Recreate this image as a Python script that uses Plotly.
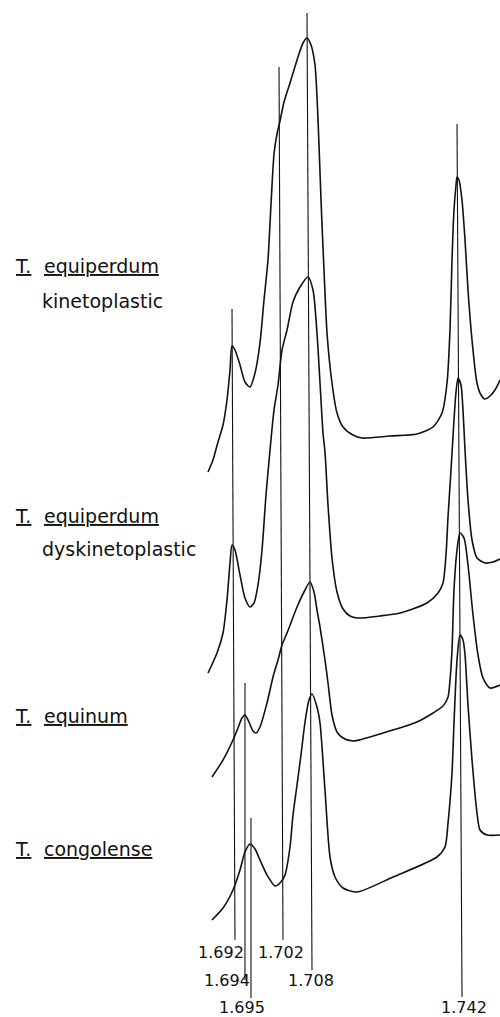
import plotly.graph_objects as go

# ---------------- data (buoyant density in g/cm3, relative absorbance) ----------------
species = ["T. equiperdum kinetoplastic", "T. equiperdum dyskinetoplastic",
           "T. equinum", "T. congolense"]

# vertical stacking offset of each trace (absorbance units)
offsets = [5.45, 3.44, 2.40, 0.97]

kin_density = [1.68636, 1.68746, 1.68857, 1.68968, 1.69056, 1.69123, 1.69167, 1.69233, 1.69344, 1.69454,
               1.69565, 1.69676, 1.69786, 1.69875, 1.69963, 1.70030, 1.70096, 1.70162, 1.70229, 1.70317,
               1.70450, 1.70627, 1.70738, 1.70826, 1.70915, 1.71003, 1.71070, 1.71136, 1.71202, 1.71269,
               1.71379, 1.71490, 1.71623, 1.71844, 1.72043, 1.72662, 1.73260, 1.73614, 1.73813, 1.73924,
               1.73990, 1.74034, 1.74078, 1.74123, 1.74145, 1.74189, 1.74255, 1.74322, 1.74388, 1.74477,
               1.74587, 1.74676, 1.74764, 1.74875, 1.74985, 1.75096]
kin_abs = [0, 0.12, 0.30, 0.47, 0.72, 1.02, 1.26, 1.22, 1.07, 0.90,
           0.85, 0.99, 1.29, 1.72, 2.12, 2.68, 3.18, 3.38, 3.51, 3.70,
           3.89, 4.15, 4.29, 4.34, 4.27, 4.07, 3.52, 2.72, 2.02, 1.39,
           0.89, 0.59, 0.45, 0.37, 0.34, 0.36, 0.38, 0.45, 0.59, 0.89,
           1.42, 2.12, 2.62, 2.87, 2.95, 2.92, 2.72, 2.32, 1.82, 1.32,
           0.89, 0.77, 0.73, 0.76, 0.82, 0.92]

dys_density = [1.68636, 1.68835, 1.68968, 1.69056, 1.69123, 1.69167, 1.69233, 1.69344, 1.69454, 1.69565,
               1.69654, 1.69742, 1.69831, 1.69919, 1.70008, 1.70096, 1.70185, 1.70273, 1.70384, 1.70516,
               1.70671, 1.70848, 1.70959, 1.71047, 1.71114, 1.71180, 1.71224, 1.71291, 1.71379, 1.71490,
               1.71623, 1.71777, 1.71932, 1.72441, 1.72884, 1.73481, 1.73724, 1.73835, 1.73901, 1.73946,
               1.74012, 1.74078, 1.74123, 1.74167, 1.74233, 1.74277, 1.74322, 1.74388, 1.74477, 1.74587,
               1.74764, 1.74941, 1.75096]
dys_abs = [0, 0.20, 0.40, 0.73, 1.10, 1.28, 1.23, 0.98, 0.75, 0.66,
           0.70, 0.88, 1.23, 1.78, 2.23, 2.63, 2.88, 3.23, 3.43, 3.71,
           3.86, 3.96, 3.83, 3.40, 2.90, 2.40, 2.21, 1.68, 1.15, 0.81,
           0.64, 0.57, 0.55, 0.57, 0.60, 0.70, 0.80, 0.90, 1.18, 1.56,
           2.03, 2.53, 2.81, 2.95, 2.88, 2.63, 2.23, 1.73, 1.33, 1.15,
           1.10, 1.11, 1.14]

equ_density = [1.68724, 1.68968, 1.69189, 1.69300, 1.69388, 1.69454, 1.69543, 1.69631, 1.69698, 1.69786,
               1.69941, 1.70074, 1.70185, 1.70273, 1.70384, 1.70605, 1.70782, 1.70893, 1.70981, 1.71047,
               1.71114, 1.71224, 1.71291, 1.71379, 1.71490, 1.71623, 1.71844, 1.72508, 1.73260, 1.73614,
               1.73835, 1.73946, 1.73990, 1.74034, 1.74078, 1.74145, 1.74211, 1.74300, 1.74388, 1.74499,
               1.74609, 1.74720, 1.74875, 1.75096]
equ_abs = [0, 0.17, 0.37, 0.49, 0.59, 0.62, 0.55, 0.46, 0.44, 0.50,
           0.74, 1.00, 1.17, 1.32, 1.44, 1.70, 1.87, 1.95, 1.85, 1.67,
           1.50, 1.17, 0.94, 0.62, 0.45, 0.39, 0.36, 0.44, 0.55, 0.64,
           0.71, 0.80, 0.97, 1.27, 1.87, 2.27, 2.44, 2.39, 2.12, 1.62,
           1.22, 0.99, 0.89, 0.92]

con_density = [1.68724, 1.68968, 1.69189, 1.69344, 1.69454, 1.69565, 1.69676, 1.69786, 1.69941, 1.70118,
               1.70229, 1.70339, 1.70450, 1.70516, 1.70605, 1.70693, 1.70782, 1.70870, 1.70937, 1.71047,
               1.71114, 1.71224, 1.71335, 1.71446, 1.71623, 1.71932, 1.72729, 1.73702, 1.73879, 1.73946,
               1.74034, 1.74078, 1.74145, 1.74211, 1.74278, 1.74322, 1.74388, 1.74477, 1.74587, 1.74654,
               1.74808, 1.75096]
con_abs = [0, 0.12, 0.30, 0.50, 0.68, 0.76, 0.71, 0.60, 0.45, 0.34,
           0.37, 0.45, 0.73, 1.05, 1.35, 1.65, 1.98, 2.20, 2.26, 2.13,
           1.97, 1.30, 0.63, 0.43, 0.32, 0.28, 0.43, 0.63, 0.73, 0.97,
           1.47, 1.97, 2.60, 2.85, 2.80, 2.65, 2.15, 1.60, 1.07, 0.90,
           0.85, 0.85]

# reference density markers (as drawn: slightly slanted)
marker_labels = ["1.692", "1.694", "1.695", "1.702", "1.708", "1.742"]
marker_top_pos = [1.69167, 1.69454, 1.69587, 1.70207, 1.70826, 1.74145]
marker_bottom_pos = [1.69233, 1.69454, 1.69587, 1.70295, 1.70937, 1.74256]
marker_top = [7.08, 3.34, 1.99, 9.50, 10.04, 8.93]
marker_bottom = [0.77, 0.37, 0.19, 0.77, 0.47, 0.20]

# ---------------- figure ----------------
INK = "#111111"
fig = go.Figure()

for i in range(len(marker_labels)):
    fig.add_trace(go.Scatter(
        x=[marker_top_pos[i], marker_bottom_pos[i]],
        y=[marker_top[i], marker_bottom[i]],
        mode="lines", line=dict(color=INK, width=1.1),
        hoverinfo="skip", showlegend=False))

traces = [(kin_density, kin_abs), (dys_density, dys_abs),
          (equ_density, equ_abs), (con_density, con_abs)]
for (xd, ad), off, name in zip(traces, offsets, species):
    fig.add_trace(go.Scatter(
        x=xd, y=[off + a for a in ad], name=name,
        mode="lines", line=dict(color=INK, width=1.6, shape="spline", smoothing=0.7),
        showlegend=False))

# density labels under the markers
label_x = [1.68923, 1.69056, 1.69388, 1.70251, 1.70915, 1.74300]
label_y = [0.65, 0.37, 0.10, 0.65, 0.37, 0.10]
for txt, lx, ly in zip(marker_labels, label_x, label_y):
    fig.add_annotation(x=lx, y=ly, text=txt, showarrow=False,
                       xanchor="center", yanchor="middle",
                       font=dict(family="DejaVu Sans", size=16, color=INK))

# species labels (paper coordinates)
W, H = 500, 1017
species_rows = [
    ("T.", "equiperdum", "kinetoplastic", 266, 301),
    ("T.", "equiperdum", "dyskinetoplastic", 516, 549),
    ("T.", "equinum", None, 716, None),
    ("T.", "congolense", None, 849, None),
]
for genus, sp, strain, yc, ys in species_rows:
    fig.add_annotation(x=13 / W, y=1 - yc / H, xref="paper", yref="paper",
                       text="<u>" + genus + "</u>", showarrow=False,
                       xanchor="left", yanchor="middle",
                       font=dict(family="DejaVu Sans", size=19, color=INK))
    fig.add_annotation(x=42 / W, y=1 - yc / H, xref="paper", yref="paper",
                       text="<u>" + sp + "</u>", showarrow=False,
                       xanchor="left", yanchor="middle",
                       font=dict(family="DejaVu Sans", size=19, color=INK))
    if strain:
        fig.add_annotation(x=40 / W, y=1 - ys / H, xref="paper", yref="paper",
                           text=strain, showarrow=False,
                           xanchor="left", yanchor="middle",
                           font=dict(family="DejaVu Sans", size=19, color=INK))

fig.update_layout(
    width=W, height=H,
    margin=dict(l=0, r=0, t=0, b=0),
    paper_bgcolor="white", plot_bgcolor="white",
    xaxis=dict(range=[1.64034, 1.75096], visible=False, fixedrange=True),
    yaxis=dict(range=[0, 10.17], visible=False, fixedrange=True),
    showlegend=False,
)

fig.write_html("out.html",
               config={"displayModeBar": False},
               post_script="document.body.style.margin='0';document.body.style.overflow='hidden';")
